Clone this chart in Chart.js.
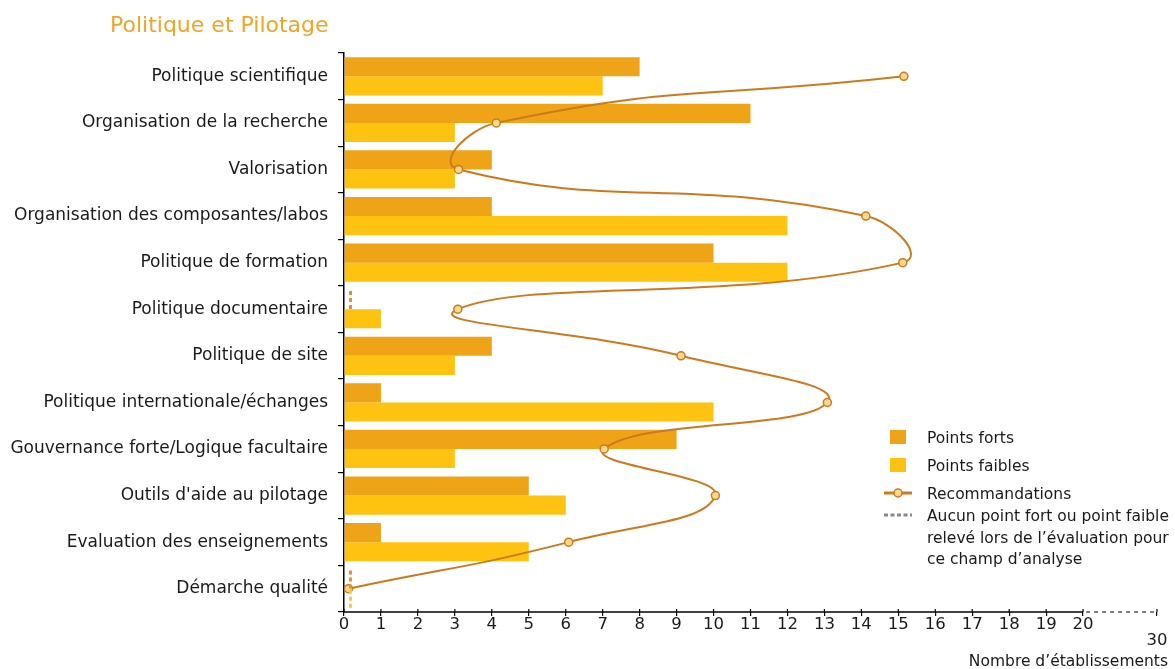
<!DOCTYPE html>
<html lang="fr">
<head>
<meta charset="utf-8">
<title>Politique et Pilotage</title>
<script src="https://cdn.jsdelivr.net/npm/chart.js@4/dist/chart.umd.min.js"></script>
<style>
  html, body { margin: 0; padding: 0; background: #fff; }
  #wrap { position: relative; width: 1175px; height: 669px; font-family: "DejaVu Sans", sans-serif; }
  #chart { position: absolute; left: 0; top: 0; }
  #title { position: absolute; left: 110px; top: 12px; font-size: 22px; color: #F0A528; white-space: nowrap; }
  #xtitle { position: absolute; right: 7px; top: 652px; font-size: 15.5px; color: #1a1a1a; white-space: nowrap; }
  #legend { position: absolute; left: 882px; top: 426px; font-size: 15.5px; color: #1a1a1a; }
  .row { position: relative; height: 28px; }
  .sym { position: absolute; left: 0; top: 0; width: 32px; height: 22px; }
  .txt { position: absolute; left: 45px; top: 2px; line-height: 21.5px; white-space: nowrap; }
  .box { position: absolute; left: 8px; top: 4px; width: 16px; height: 14px; }
</style>
</head>
<body>
<div id="wrap">
  <canvas id="chart" width="1175" height="669"></canvas>
  <div id="title">Politique et Pilotage</div>
  <div id="legend">
    <div class="row"><div class="sym"><div class="box" style="background:#EFA317"></div></div><div class="txt">Points forts</div></div>
    <div class="row"><div class="sym"><div class="box" style="background:#FEC310"></div></div><div class="txt">Points faibles</div></div>
    <div class="row" style="height:22px"><div class="sym">
      <svg width="32" height="22"><line x1="2" y1="11" x2="30" y2="11" stroke="#CB7A1E" stroke-width="3"/><circle cx="16" cy="11" r="4" fill="#FBD88C" stroke="#CB7A1E" stroke-width="1.5"/></svg>
    </div><div class="txt">Recommandations</div></div>
    <div class="row"><div class="sym">
      <svg width="32" height="22"><line x1="2" y1="11" x2="30" y2="11" stroke="#8a8a8a" stroke-width="3" stroke-dasharray="4,2.5"/></svg>
    </div><div class="txt">Aucun point fort ou point faible<br>relevé lors de l’évaluation pour<br>ce champ d’analyse</div></div>
  </div>
  <div id="xtitle">Nombre d’établissements</div>
</div>
<script>
// Champs d'analyse
const categories = [
  'Politique scientifique',
  'Organisation de la recherche',
  'Valorisation',
  'Organisation des composantes/labos',
  'Politique de formation',
  'Politique documentaire',
  'Politique de site',
  'Politique internationale/échanges',
  'Gouvernance forte/Logique facultaire',
  "Outils d'aide au pilotage",
  'Evaluation des enseignements',
  'Démarche qualité'
];
// Nombre d'établissements par champ
const pointsForts     = [8, 11, 4, 4, 10, 0, 4, 1, 9, 5, 1, 0];
const pointsFaibles   = [7, 3, 3, 12, 12, 1, 3, 10, 3, 6, 5, 0];
const recommandations = [15.15, 4.12, 3.1, 14.12, 15.12, 3.08, 9.12, 13.08, 7.04, 10.05, 6.08, 0.12];
// Graduations de l'axe horizontal : 0 à 20, puis coupure jusqu'à 30
const xTickLabels = ['0','1','2','3','4','5','6','7','8','9','10','11','12','13','14','15','16','17','18','19','20','','30'];

const TEXT = '#1a1a1a';

// Trait pointillé pour les champs sans point fort / faible
const zeroMarks = {
  id: 'zeroMarks',
  afterDatasetsDraw(chart) {
    const ctx = chart.ctx;
    const xs = chart.scales.x;
    const colors = ['#F08A2C', '#FFC445'];
    [0, 1].forEach(di => {
      const meta = chart.getDatasetMeta(di);
      const values = chart.data.datasets[di].data;
      meta.data.forEach((bar, i) => {
        if (values[i] !== 0) return;
        const x = Math.round(xs.getPixelForValue(0.15)) + 0.5;
        ctx.save();
        ctx.strokeStyle = colors[di];
        ctx.lineWidth = 3;
        ctx.lineCap = 'butt';
        ctx.setLineDash([4, 3]);
        ctx.beginPath();
        ctx.moveTo(x, bar.y - bar.height / 2 + 1);
        ctx.lineTo(x, bar.y + bar.height / 2);
        ctx.stroke();
        ctx.restore();
      });
    });
  }
};

// Ligne de l'axe horizontal : pleine jusqu'à 20, pointillée ensuite
const xAxisLine = {
  id: 'xAxisLine',
  afterDraw(chart) {
    const ctx = chart.ctx;
    const xs = chart.scales.x;
    const y = chart.chartArea.bottom;
    const x0 = xs.getPixelForValue(0), x20 = xs.getPixelForValue(20), x22 = xs.getPixelForValue(22);
    ctx.save();
    ctx.strokeStyle = '#000';
    ctx.lineWidth = 1.5;
    ctx.beginPath(); ctx.moveTo(x0 - 1, y); ctx.lineTo(x20, y); ctx.stroke();
    // partie haute des graduations, de part et d'autre de l'axe
    ctx.lineWidth = 1.2;
    xs.ticks.forEach(t => {
      if (t.value === 21) return;
      const x = xs.getPixelForValue(t.value);
      ctx.beginPath(); ctx.moveTo(x, y - 3); ctx.lineTo(x, y); ctx.stroke();
    });
    ctx.lineWidth = 1;
    ctx.setLineDash([4, 4]);
    ctx.beginPath(); ctx.moveTo(x20 + 3, y); ctx.lineTo(x22, y); ctx.stroke();
    ctx.restore();
  }
};

new Chart(document.getElementById('chart'), {
  type: 'bar',
  data: {
    labels: categories,
    datasets: [
      { label: 'Points forts', data: pointsForts, backgroundColor: '#EFA317', order: 2 },
      { label: 'Points faibles', data: pointsFaibles, backgroundColor: '#FEC310', order: 2 },
      {
        type: 'line', label: 'Recommandations', data: recommandations, indexAxis: 'y',
        borderColor: '#CB7A1E', borderWidth: 2, tension: 0.5,
        pointRadius: 4, pointBackgroundColor: '#FBD88C', pointBorderColor: '#CB7A1E', pointBorderWidth: 1.5,
        order: 0
      }
    ]
  },
  options: {
    indexAxis: 'y',
    responsive: false,
    animation: false,
    categoryPercentage: 0.82,
    barPercentage: 1,
    layout: { padding: { top: 53, right: 18, left: 0, bottom: 0 } },
    plugins: { legend: { display: false }, tooltip: { enabled: false }, title: { display: false } },
    scales: {
      x: {
        type: 'linear', min: 0, max: 22,
        afterFit(s) { s.height = 57; },
        border: { display: false },
        grid: {
          drawOnChartArea: false, drawTicks: true, tickLength: 4,
          color: c => (c.tick && c.tick.value === 21) ? 'rgba(0,0,0,0)' : '#000', lineWidth: 1.2
        },
        ticks: {
          stepSize: 1, autoSkip: false, maxRotation: 0, color: TEXT,
          font: { family: 'DejaVu Sans', size: 16.5, lineHeight: 1.0 }, padding: 0,
          callback: v => (v === 22 ? ['', xTickLabels[v]] : xTickLabels[v])
        }
      },
      y: {
        type: 'category',
        afterFit(s) { s.width = 344; },
        border: { display: true, color: '#000', width: 1.5 },
        grid: { offset: true, drawOnChartArea: false, drawTicks: true, tickLength: 6, color: '#000', lineWidth: 1.2 },
        ticks: { color: TEXT, font: { family: 'DejaVu Sans', size: 17 }, padding: 10, autoSkip: false }
      }
    }
  },
  plugins: [zeroMarks, xAxisLine]
});
</script>
</body>
</html>
